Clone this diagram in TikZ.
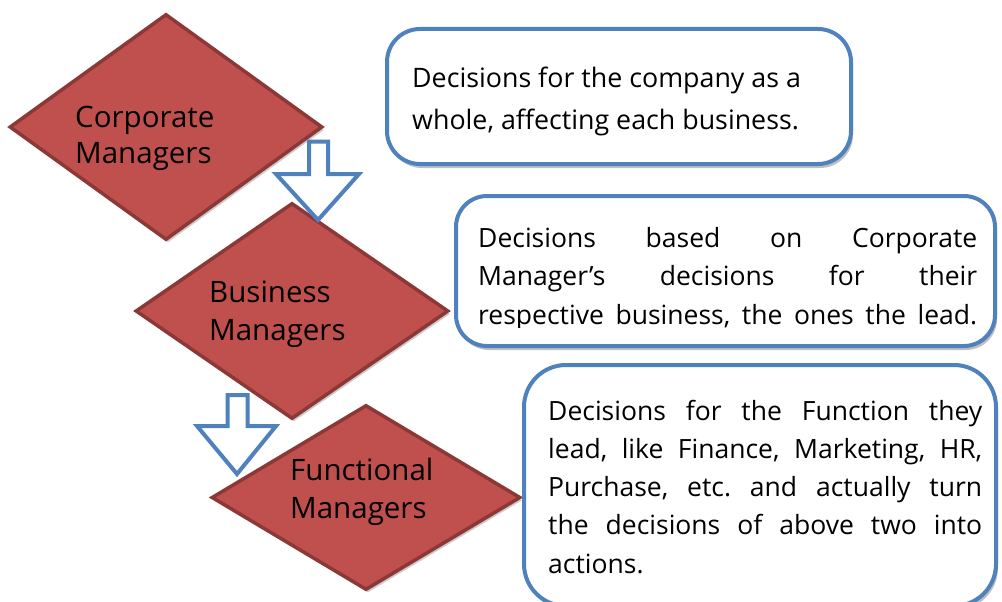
\documentclass[tikz,border=0pt]{standalone}
\usepackage{fontspec}
\setmainfont{Open Sans}
\usetikzlibrary{shapes.geometric,shadows}
\definecolor{mgrfill}{HTML}{C0504D}
\definecolor{mgrline}{HTML}{8C3836}
\definecolor{accblue}{HTML}{4F81BD}
\tikzset{
  mgr/.style={shape=diamond, draw=mgrline, fill=mgrfill, line width=3.5pt, inner sep=0pt,
    drop shadow={shadow xshift=2pt, shadow yshift=-3pt, opacity=0.2, fill=black}},
  mgrtext/.style={anchor=base west, inner sep=0pt},
  decbox/.style={shape=rectangle, draw=accblue, fill=white, line width=4pt, inner sep=0pt,
    drop shadow={shadow xshift=2pt, shadow yshift=-4pt, opacity=0.25, fill=black}},
  dectext/.style={anchor=base west, inner sep=0pt},
  blockarrow/.style={draw=accblue, fill=white, line width=4pt, line join=miter},
}
\frenchspacing
\newcommand{\jlineA}[1]{\makebox[499pt][s]{#1}}
\newcommand{\jlineB}[1]{\makebox[434pt][s]{#1}}
\begin{document}
\begin{tikzpicture}[x=1pt, y=-1pt]
\useasboundingbox (0,0) rectangle (1002,602);
\clip (0,0) rectangle (1002,602);
\fill[white] (0,0) rectangle (1002,602);

% diamonds
\node[mgr, minimum width=313pt, minimum height=226pt] (corp) at (166,127) {};
\node[mgr, minimum width=313pt, minimum height=216pt] (bus) at (292,311) {};
\node[mgr, minimum width=309pt, minimum height=185pt] (func) at (366,497.5) {};

\node[mgrtext] (corpt) at (75,127) {\fontsize{29.5}{36}\selectfont\begin{tabular}[t]{@{}l@{}}Corporate\\Managers\end{tabular}};
\node[mgrtext] (bust) at (209,302) {\fontsize{29.5}{38}\selectfont\begin{tabular}[t]{@{}l@{}}Business\\Managers\end{tabular}};
\node[mgrtext] (funct) at (290,480) {\fontsize{29.5}{38}\selectfont\begin{tabular}[t]{@{}l@{}}Functional\\Managers\end{tabular}};

% block arrows
\coordinate (a1) at (309,141.5);
\draw[blockarrow] (a1) -- (328,141.5) -- (328,174) -- (359,174) -- (318,220) -- (276,174) -- (309,174) -- cycle;
\coordinate (a2) at (227.5,395);
\draw[blockarrow] (a2) -- (247.5,395) -- (247.5,426) -- (276,426) -- (237,474) -- (197,426) -- (227.5,426) -- cycle;

% decision boxes
\node[decbox, rounded corners=33pt, minimum width=464pt, minimum height=135pt] (box1) at (619,96.5) {};
\node[decbox, rounded corners=31pt, minimum width=539pt, minimum height=150pt] (box2) at (725.5,271) {};
\node[decbox, rounded corners=42pt, minimum width=472pt, minimum height=241pt] (box3) at (760,485.5) {};

\node[dectext] (t1) at (412,88) {\fontsize{26.8}{42}\selectfont\begin{tabular}[t]{@{}l@{}}Decisions for the company as a\\whole, affecting each business.\end{tabular}};

\begin{scope}
\clip (440,180) rectangle (1002,327.5);
\node[dectext] (t2) at (478,247) {\fontsize{26.5}{38.5}\selectfont\begin{tabular}[t]{@{}l@{}}\jlineA{Decisions based on Corporate}\\\jlineA{Manager’s decisions for their}\\\jlineA{respective business, the ones the lead.}\end{tabular}};
\end{scope}

\node[dectext] (t3) at (548,420) {\fontsize{26.5}{38.3}\selectfont\begin{tabular}[t]{@{}l@{}}\jlineB{Decisions for the Function they}\\\jlineB{lead, like Finance, Marketing, HR,}\\\jlineB{Purchase, etc. and actually turn}\\\jlineB{the decisions of above two into}\\actions.\end{tabular}};
\end{tikzpicture}
\end{document}
